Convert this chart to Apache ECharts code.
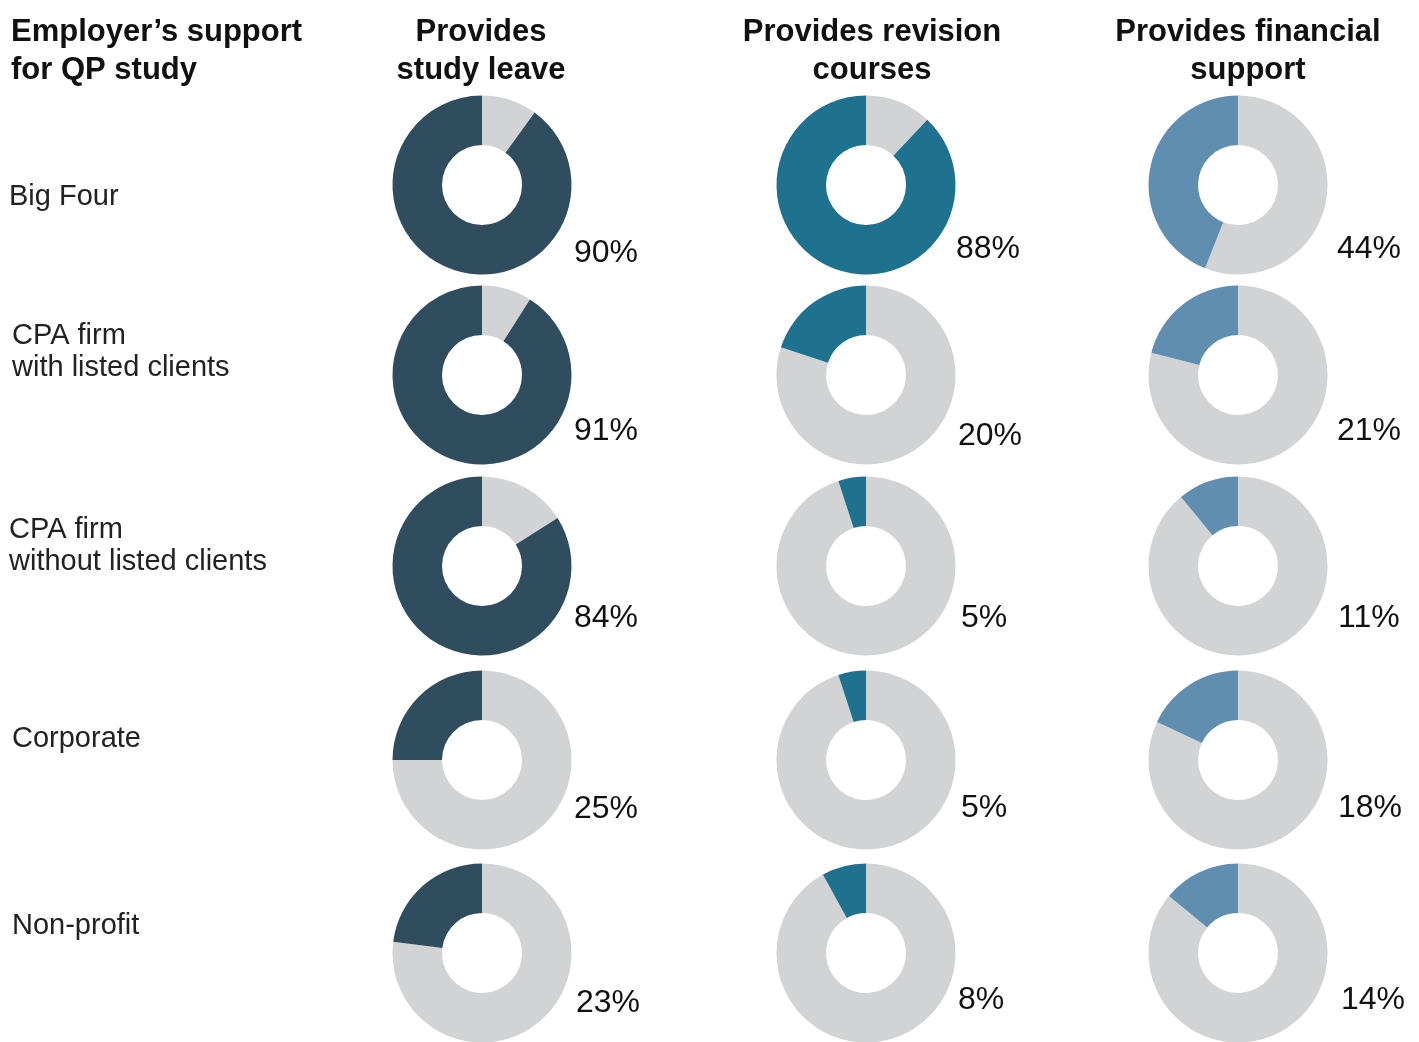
<!DOCTYPE html>
<html>
<head>
<meta charset="utf-8">
<script src="https://cdn.jsdelivr.net/npm/echarts@6/dist/echarts.min.js"></script>
<style>
  html, body { margin: 0; padding: 0; background: #fff; }
  #main { width: 1419px; height: 1042px; }
</style>
</head>
<body>
<div id="main"></div>
<script>
// data
const rowNames = ['Big Four', 'CPA firm\nwith listed clients', 'CPA firm\nwithout listed clients', 'Corporate', 'Non-profit'];
const colNames = ['Provides\nstudy leave', 'Provides revision\ncourses', 'Provides financial\nsupport'];
const studyLeave = [90, 91, 84, 25, 23];
const revisionCourses = [88, 20, 5, 5, 8];
const financialSupport = [44, 21, 11, 18, 14];

// layout
const colX = [482, 866, 1238];
const colTitleX = [481, 872, 1248];
const rowY = [185, 375, 566, 760, 953];
const colColors = ['#2f4d5f', '#1f7190', '#5f8eb0'];
const restColor = '#d2d3d5';
const rowLabelPos = [[9, 196], [12, 351], [9, 545], [12, 738], [12, 925]];
const pctPos = [
    [[574, 252], [574, 430], [574, 617], [574, 808], [576, 1002]],
    [[956, 248], [958, 435], [961, 617], [961, 807], [958, 999]],
    [[1337, 248], [1337, 430], [1338, 617], [1338, 807], [1341, 999]]
];

const chart = echarts.init(document.getElementById('main'));
const columns = [studyLeave, revisionCourses, financialSupport];

const series = [];
const graphic = [];
const fontFam = '"Liberation Sans", Arial, Helvetica, sans-serif';

columns.forEach((vals, c) => {
    vals.forEach((v, r) => {
        series.push({
            type: 'pie',
            center: [colX[c], rowY[r]],
            radius: [40, 89.5],
            startAngle: 90,
            clockwise: true,
            silent: true,
            animation: false,
            label: { show: false },
            labelLine: { show: false },
            itemStyle: { borderWidth: 0 },
            data: [
                { value: 100 - v, itemStyle: { color: restColor } },
                { value: v, itemStyle: { color: colColors[c] } }
            ]
        });
        graphic.push({
            type: 'text',
            x: pctPos[c][r][0],
            y: pctPos[c][r][1] + 1,
            style: {
                text: v + '%',
                font: '32px ' + fontFam,
                fill: '#111',
                textAlign: 'left',
                textVerticalAlign: 'middle'
            }
        });
    });
    graphic.push({
        type: 'text',
        x: colTitleX[c],
        y: 51,
        style: {
            text: colNames[c],
            font: 'bold 31px ' + fontFam,
            fill: '#111',
            lineHeight: 38,
            textAlign: 'center',
            textVerticalAlign: 'middle'
        }
    });
});

graphic.push({
    type: 'text',
    x: 11,
    y: 51,
    style: {
        text: 'Employer\u2019s support\nfor QP study',
        font: 'bold 31px ' + fontFam,
        fill: '#111',
        lineHeight: 38,
        textAlign: 'left',
        textVerticalAlign: 'middle'
    }
});

rowNames.forEach((name, r) => {
    graphic.push({
        type: 'text',
        x: rowLabelPos[r][0],
        y: rowLabelPos[r][1] + 1,
        style: {
            text: name,
            font: '29px ' + fontFam,
            fill: '#222',
            lineHeight: 32,
            textAlign: 'left',
            textVerticalAlign: 'middle'
        }
    });
});

chart.setOption({
    backgroundColor: '#fff',
    animation: false,
    series: series,
    graphic: graphic
});
</script>
</body>
</html>
